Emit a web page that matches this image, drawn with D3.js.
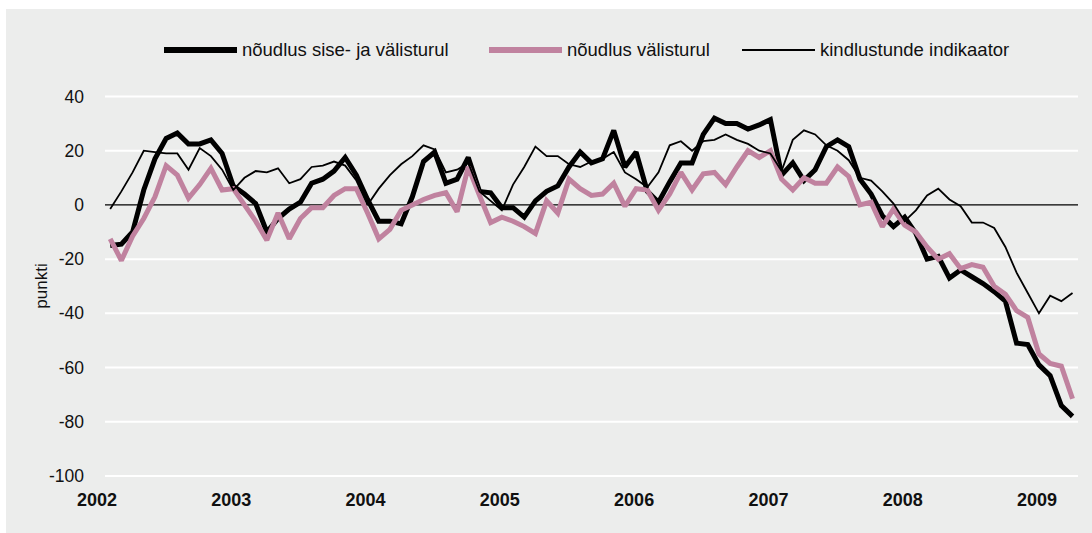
<!DOCTYPE html>
<html>
<head>
<meta charset="utf-8">
<script src="https://cdn.jsdelivr.net/npm/d3@7"></script>
<style>
  body { margin: 0; background: #fff; }
  text { font-family: "Liberation Sans", Arial, sans-serif; }
</style>
</head>
<body>
<div id="chart"></div>
<script>
// monthly data, Feb 2002 .. Apr 2009
var startYear = 2002, startMonth = 1; // month index 1 = February
var seriesNames = ["nõudlus sise- ja välisturul", "nõudlus välisturul", "kindlustunde indikaator"];
var yearLabels = ["2002", "2003", "2004", "2005", "2006", "2007", "2008", "2009"];
var yTicks = [40, 20, 0, -20, -40, -60, -80, -100];

var demandTotal = [-15, -14.5, -10, 5.5, 17, 24.5, 26.5, 22.5, 22.5, 24, 19, 7,
    4, 0.5, -10, -5, -1.5, 1, 8, 9.5, 12.5, 17.5, 11, 2,
    -6, -6, -7, 3, 16, 19.5, 8, 9.5, 17.5, 5, 4.5, -1,
    -1, -4.5, 1.5, 5, 7, 14, 19.5, 15.5, 17, 27.5, 14, 19.5,
    5, 1, 8.5, 15.5, 15.5, 26, 32, 30, 30, 28, 29.5, 31.5,
    11, 15.5, 9, 13, 21.5, 24, 21.5, 9.5, 4, -4, -8, -4.5,
    -10.5, -20, -19, -27, -24, -26.5, -29, -32, -35.5, -51, -51.5, -59,
    -63, -74, -78];
var demandExport = [-12.5, -20.5, -11.5, -5, 3, 14.5, 11, 2.5, 7.5, 13.5, 5.5, 6,
    0, -6, -13, -3, -12.5, -5, -1, -1, 3.5, 6, 6, -3,
    -12.5, -9, -2, 0, 2, 3.5, 4.5, -2.5, 14, 3.5, -6.5, -4.5,
    -6, -8, -10.5, 1.5, -3, 9.5, 6, 3.5, 4, 8, -0.5, 6,
    5.5, -2, 4, 12, 5.5, 11.5, 12, 7.5, 14, 20, 17.5, 20,
    9.5, 5.5, 10, 8, 8, 14, 10.5, 0, 1, -8, -1.5, -7.5,
    -10, -15.5, -20, -18, -23.5, -22, -23, -30, -33, -39, -41.5, -55,
    -58.5, -59.5, -71.5];
var confidence = [-1.5, 5, 12, 20, 19.5, 19, 19, 13, 21, 18, 13, 5.5,
    10, 12.5, 12, 13.5, 8, 9.5, 14, 14.5, 16, 14.5, 9, 0,
    6, 11, 15, 18, 22, 20.5, 12, 13, 15.5, 5, 1.5, -2,
    7.5, 14, 21.5, 18, 18, 15, 14, 16, 17, 19.5, 12, 9.5,
    6.5, 12, 22, 23.5, 20, 23.5, 24, 26, 24, 22.5, 20, 19,
    12.5, 24, 27.5, 26, 22, 20, 16.5, 10, 9, 5, 0.5, -6,
    -2, 3.5, 6, 2, -0.5, -6.5, -6.5, -8.5, -15.5, -25, -32.5, -40,
    -33.5, -35.5, -32.5];

var W = 1092, H = 533;
var svg = d3.select("#chart").append("svg")
    .attr("width", W)
    .attr("height", H);

// grey panel
svg.append("rect")
    .attr("x", 6).attr("y", 9)
    .attr("width", W - 6).attr("height", H - 9)
    .attr("fill", "#ecedec");

// month index: 0 = Jan 2002
var x = d3.scaleLinear()
    .domain([0, 87])
    .range([99, 99 + 87 * 11.19]);

var y = d3.scaleLinear()
    .domain([-100, 40])
    .range([476, 96.5]);

var plotLeft = 105, plotRight = 1078;

// horizontal grid lines
svg.append("g")
    .selectAll("line")
    .data(yTicks.filter(d => d !== 0))
    .enter()
    .append("line")
    .attr("x1", plotLeft)
    .attr("x2", plotRight)
    .attr("y1", d => y(d))
    .attr("y2", d => y(d))
    .attr("stroke", "#ffffff")
    .attr("stroke-width", 2);

// Y tick labels
svg.append("g")
    .selectAll("text")
    .data(yTicks)
    .enter()
    .append("text")
    .attr("x", 84)
    .attr("y", d => y(d))
    .attr("dy", "0.35em")
    .attr("text-anchor", "end")
    .style("font-size", "17.5px")
    .attr("fill", "#111")
    .text(d => d);

// X year labels
svg.append("g")
    .selectAll("text")
    .data(yearLabels)
    .enter()
    .append("text")
    .attr("x", (d, i) => x(i * 12) - 2)
    .attr("y", 506)
    .attr("text-anchor", "middle")
    .style("font-size", "18px")
    .style("font-weight", "bold")
    .attr("fill", "#111")
    .text(d => d);

// y axis title
svg.append("text")
    .attr("transform", "translate(47,286) rotate(-90)")
    .attr("text-anchor", "middle")
    .style("font-size", "17px")
    .attr("fill", "#111")
    .text("punkti");

// zero line
svg.append("line")
    .attr("x1", plotLeft)
    .attr("x2", plotRight)
    .attr("y1", y(0))
    .attr("y2", y(0))
    .attr("stroke", "#000")
    .attr("stroke-width", 1.3);

var line = d3.line()
    .x((d, i) => x(i + startMonth))
    .y(d => y(d));

var styles = [
    {data: demandTotal, color: "#000000", width: 5},
    {data: demandExport, color: "#c0829f", width: 5},
    {data: confidence, color: "#000000", width: 1.8}
];

styles.forEach(s => {
    svg.append("path")
        .datum(s.data)
        .attr("d", line)
        .attr("fill", "none")
        .attr("stroke", s.color)
        .attr("stroke-width", s.width)
        .attr("stroke-linejoin", "miter")
        .attr("stroke-miterlimit", 2);
});

// legend
var legendX = [164, 489, 742];
var legend = svg.append("g");
styles.forEach((s, i) => {
    legend.append("line")
        .attr("x1", legendX[i])
        .attr("x2", legendX[i] + 73)
        .attr("y1", 50)
        .attr("y2", 50)
        .attr("stroke", s.color)
        .attr("stroke-width", s.width === 5 ? 6 : 2);
    legend.append("text")
        .attr("x", legendX[i] + 78)
        .attr("y", 50)
        .attr("dy", "0.35em")
        .style("font-size", "18.5px")
        .attr("fill", "#111")
        .text(seriesNames[i]);
});
</script>
</body>
</html>
